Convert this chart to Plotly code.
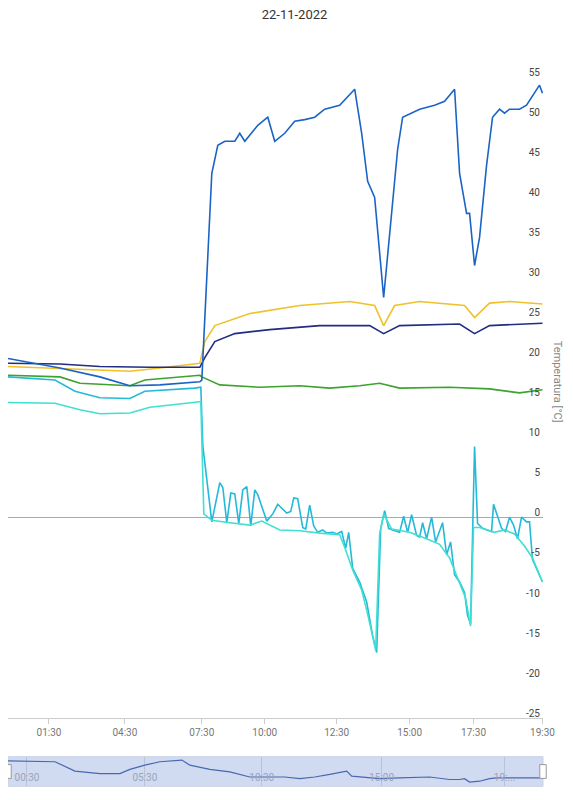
import plotly.graph_objects as go

# x positions are slots on the chart's (non-uniform) category time axis
tick_pos = [49, 125, 202, 265, 337, 410, 474, 543]
tick_labels = ["01:30", "04:30", "07:30", "10:00", "12:30", "15:00", "17:30", "19:30"]

blue_x = [8, 60, 100, 130, 160, 200, 202, 205, 212, 218, 225, 235, 240, 245, 258, 268, 275, 285, 295, 305, 315, 325, 340, 355, 362, 368, 375, 384, 392, 398, 403, 420, 435, 445, 455, 460, 467, 470, 475, 480, 487, 493, 500, 505, 510, 520, 527, 535, 540, 543]
blue_y = [19.9, 18.7, 17.6, 16.5, 16.6, 17.0, 17.2, 25, 43, 46.5, 47, 47, 48, 47, 49, 50, 47, 48, 49.5, 49.7, 50, 51, 51.5, 53.5, 48, 42, 40, 27.5, 38, 46, 50, 51, 51.5, 52, 53.5, 43, 38, 38, 31.5, 35, 44, 50, 51, 50.5, 51, 51, 51.5, 53, 54, 53]

navy_x = [8, 60, 100, 150, 200, 205, 215, 235, 270, 320, 370, 384, 400, 460, 475, 490, 543]
navy_y = [19.3, 19.2, 18.9, 18.8, 18.8, 20, 22, 23, 23.5, 24, 24, 23, 24, 24.2, 23, 24, 24.3]

yellow_x = [8, 90, 130, 160, 200, 205, 215, 250, 300, 350, 375, 384, 395, 420, 465, 475, 490, 510, 543]
yellow_y = [18.9, 18.5, 18.3, 18.7, 19.3, 22, 24, 25.5, 26.5, 27, 26.5, 24, 26.5, 27, 26.5, 25, 26.8, 27, 26.7]

green_x = [8, 60, 80, 130, 145, 200, 202, 220, 260, 300, 330, 360, 380, 400, 450, 490, 520, 543]
green_y = [17.8, 17.6, 16.8, 16.5, 17.2, 17.8, 17.6, 16.6, 16.3, 16.5, 16.2, 16.5, 16.8, 16.2, 16.3, 16.1, 15.6, 16.0]

cyan_x = [8, 55, 75, 100, 130, 145, 195, 201, 203, 212, 220, 223, 227, 231, 235, 239, 243, 247, 251, 255, 258, 267, 273, 278, 287, 291, 294, 298, 303, 306, 310, 314, 318, 323, 327, 333, 337, 342, 346, 349, 353, 360, 367, 373, 377, 381, 385, 389, 395, 400, 404, 408, 412, 417, 420, 423, 427, 432, 436, 443, 447, 451, 455, 460, 465, 468, 471, 475, 478, 483, 492, 494, 502, 506, 510, 514, 518, 522, 527, 530, 533, 543]
cyan_y = [17.6, 17.2, 15.8, 15.0, 14.9, 15.8, 16.2, 16.3, 9, -0.5, 4.4, 3.8, -0.6, 3.1, 3, -0.7, 3.5, 3.9, -1, 3.5, 2.9, -0.4, 0.5, 1.7, 0.6, 0.8, 2.5, 2.4, -1.2, -1.4, 1.6, -1, -1.8, -1.5, -1.9, -1.8, -2, -1.7, -3.8, -1.8, -6.3, -8, -10.5, -14.7, -16.8, -1.4, 0.9, -1.3, -1.6, -1.8, 0.2, -1.8, 0.4, -2.2, -2.4, -0.6, -2.6, 0.1, -3, -0.6, -4.6, -3, -7.1, -8, -9.3, -12.2, -13.2, 8.9, -0.7, -1.3, -1.7, 1.7, -1.3, -1.7, 0.1, -0.9, -2.6, 0.1, -0.5, -0.5, -5.2, -8.0]

turq_x = [8, 55, 80, 100, 130, 150, 200, 201, 204, 212, 230, 250, 262, 280, 300, 320, 340, 346, 353, 362, 368, 376, 380, 384, 392, 410, 425, 440, 450, 460, 466, 471, 474, 480, 495, 505, 515, 525, 533, 543]
turq_y = [14.4, 14.3, 13.5, 13.0, 13.1, 13.8, 14.5, 14.5, 0.5, -0.3, -0.6, -0.9, -0.4, -1.5, -1.6, -1.9, -2.1, -4, -6.5, -9, -12, -16.5, -2, 0.5, -1.4, -1.8, -2.5, -3.3, -5, -8, -10, -13.5, -1.2, -1.2, -1.8, -1.5, -2, -3.5, -5, -8.0]

slider_x = [8, 55, 75, 100, 120, 130, 145, 160, 182, 190, 210, 230, 250, 285, 300, 315, 330, 345, 347, 352, 370, 380, 400, 430, 450, 460, 465, 470, 480, 490, 497, 543]
slider_y = [18.0, 17.9, 16.8, 16.5, 16.5, 17.0, 17.5, 17.9, 18.1, 17.5, 17.0, 16.7, 16.1, 16.1, 15.9, 16.1, 16.4, 16.7, 16.8, 16.2, 16.0, 15.9, 16.0, 16.1, 15.8, 15.8, 15.9, 15.5, 15.6, 15.9, 16.0, 16.0]
slider_tick_pos = [27, 145, 262, 382, 505]
slider_tick_labels = ["00:30", "05:30", "10:30", "15:00", "19:..."]

series = [
    (cyan_x, cyan_y, "#24B9D9"),
    (turq_x, turq_y, "#3FE0D2"),
    (green_x, green_y, "#3BA32E"),
    (yellow_x, yellow_y, "#EFC12A"),
    (navy_x, navy_y, "#212C82"),
    (blue_x, blue_y, "#1A64C6"),
]

fig = go.Figure()
for xs, ys, c in series:
    fig.add_trace(go.Scatter(x=xs, y=ys, mode="lines", line=dict(color=c, width=1.6), showlegend=False))

fig.add_trace(go.Scatter(x=slider_x, y=slider_y, mode="lines", line=dict(color="#4A68B0", width=1.2),
                         xaxis="x2", yaxis="y2", showlegend=False))

H = 800.0
fig.update_layout(
    width=573, height=800,
    margin=dict(l=0, r=38, t=0, b=0),
    paper_bgcolor="white", plot_bgcolor="white",
    font=dict(family="Roboto", color="#777", size=10),
    separators=".,",
    title=dict(text="22-11-2022", x=0.5, xanchor="center", y=1 - 6 / H, yanchor="middle",
               font=dict(size=13, color="#333")),
    xaxis=dict(domain=[0, 1], range=[8, 543.5], tickvals=tick_pos, ticktext=tick_labels,
               showgrid=False, zeroline=False, showline=True, linecolor="#CCCCCC",
               ticks="outside", ticklen=5, tickcolor="#CCCCCC", anchor="y"),
    yaxis=dict(domain=[1 - 710 / H, 1 - 60 / H], range=[-25, 55], side="right",
               tickvals=list(range(-25, 56, 5)), ticktext=[str(v) for v in range(-25, 56, 5)],
               showgrid=False, zeroline=True, zerolinecolor="#AAAAAA", zerolinewidth=1.2,
               ticklabelposition="inside", ticklabeloverflow="allow", ticklabelshift=-5,
               showline=False, anchor="x"),
    xaxis2=dict(domain=[0, 1], range=[8, 543.5], tickvals=slider_tick_pos, ticktext=slider_tick_labels,
                ticklabelposition="inside", showgrid=True, gridcolor="#B8C2DC", zeroline=False,
                showline=False, tickfont=dict(color="#9AA4BC", size=10), anchor="y2", fixedrange=True),
    yaxis2=dict(domain=[1 - 779 / H, 1 - 749 / H], range=[15, 18.5], visible=False, anchor="x2", fixedrange=True),
    shapes=[
        dict(type="rect", xref="paper", yref="paper", x0=0, x1=1, y0=1 - 779 / H, y1=1 - 749 / H,
             fillcolor="rgba(150,172,222,0.45)", line=dict(color="#C9D2E6", width=1), layer="below"),
        dict(type="rect", xref="paper", yref="paper", x0=-0.006, x1=0.006, y0=1 - 771 / H, y1=1 - 757 / H,
             fillcolor="white", line=dict(color="#999", width=1)),
        dict(type="rect", xref="paper", yref="paper", x0=0.994, x1=1.006, y0=1 - 771 / H, y1=1 - 757 / H,
             fillcolor="white", line=dict(color="#999", width=1)),
    ],
    annotations=[
        dict(text="Temperatura [°C]", textangle=90, x=1, xref="paper", xanchor="center", xshift=14,
             y=17, yref="y", showarrow=False, font=dict(size=11, color="#888")),
    ],
)
fig.write_html("out.html")
